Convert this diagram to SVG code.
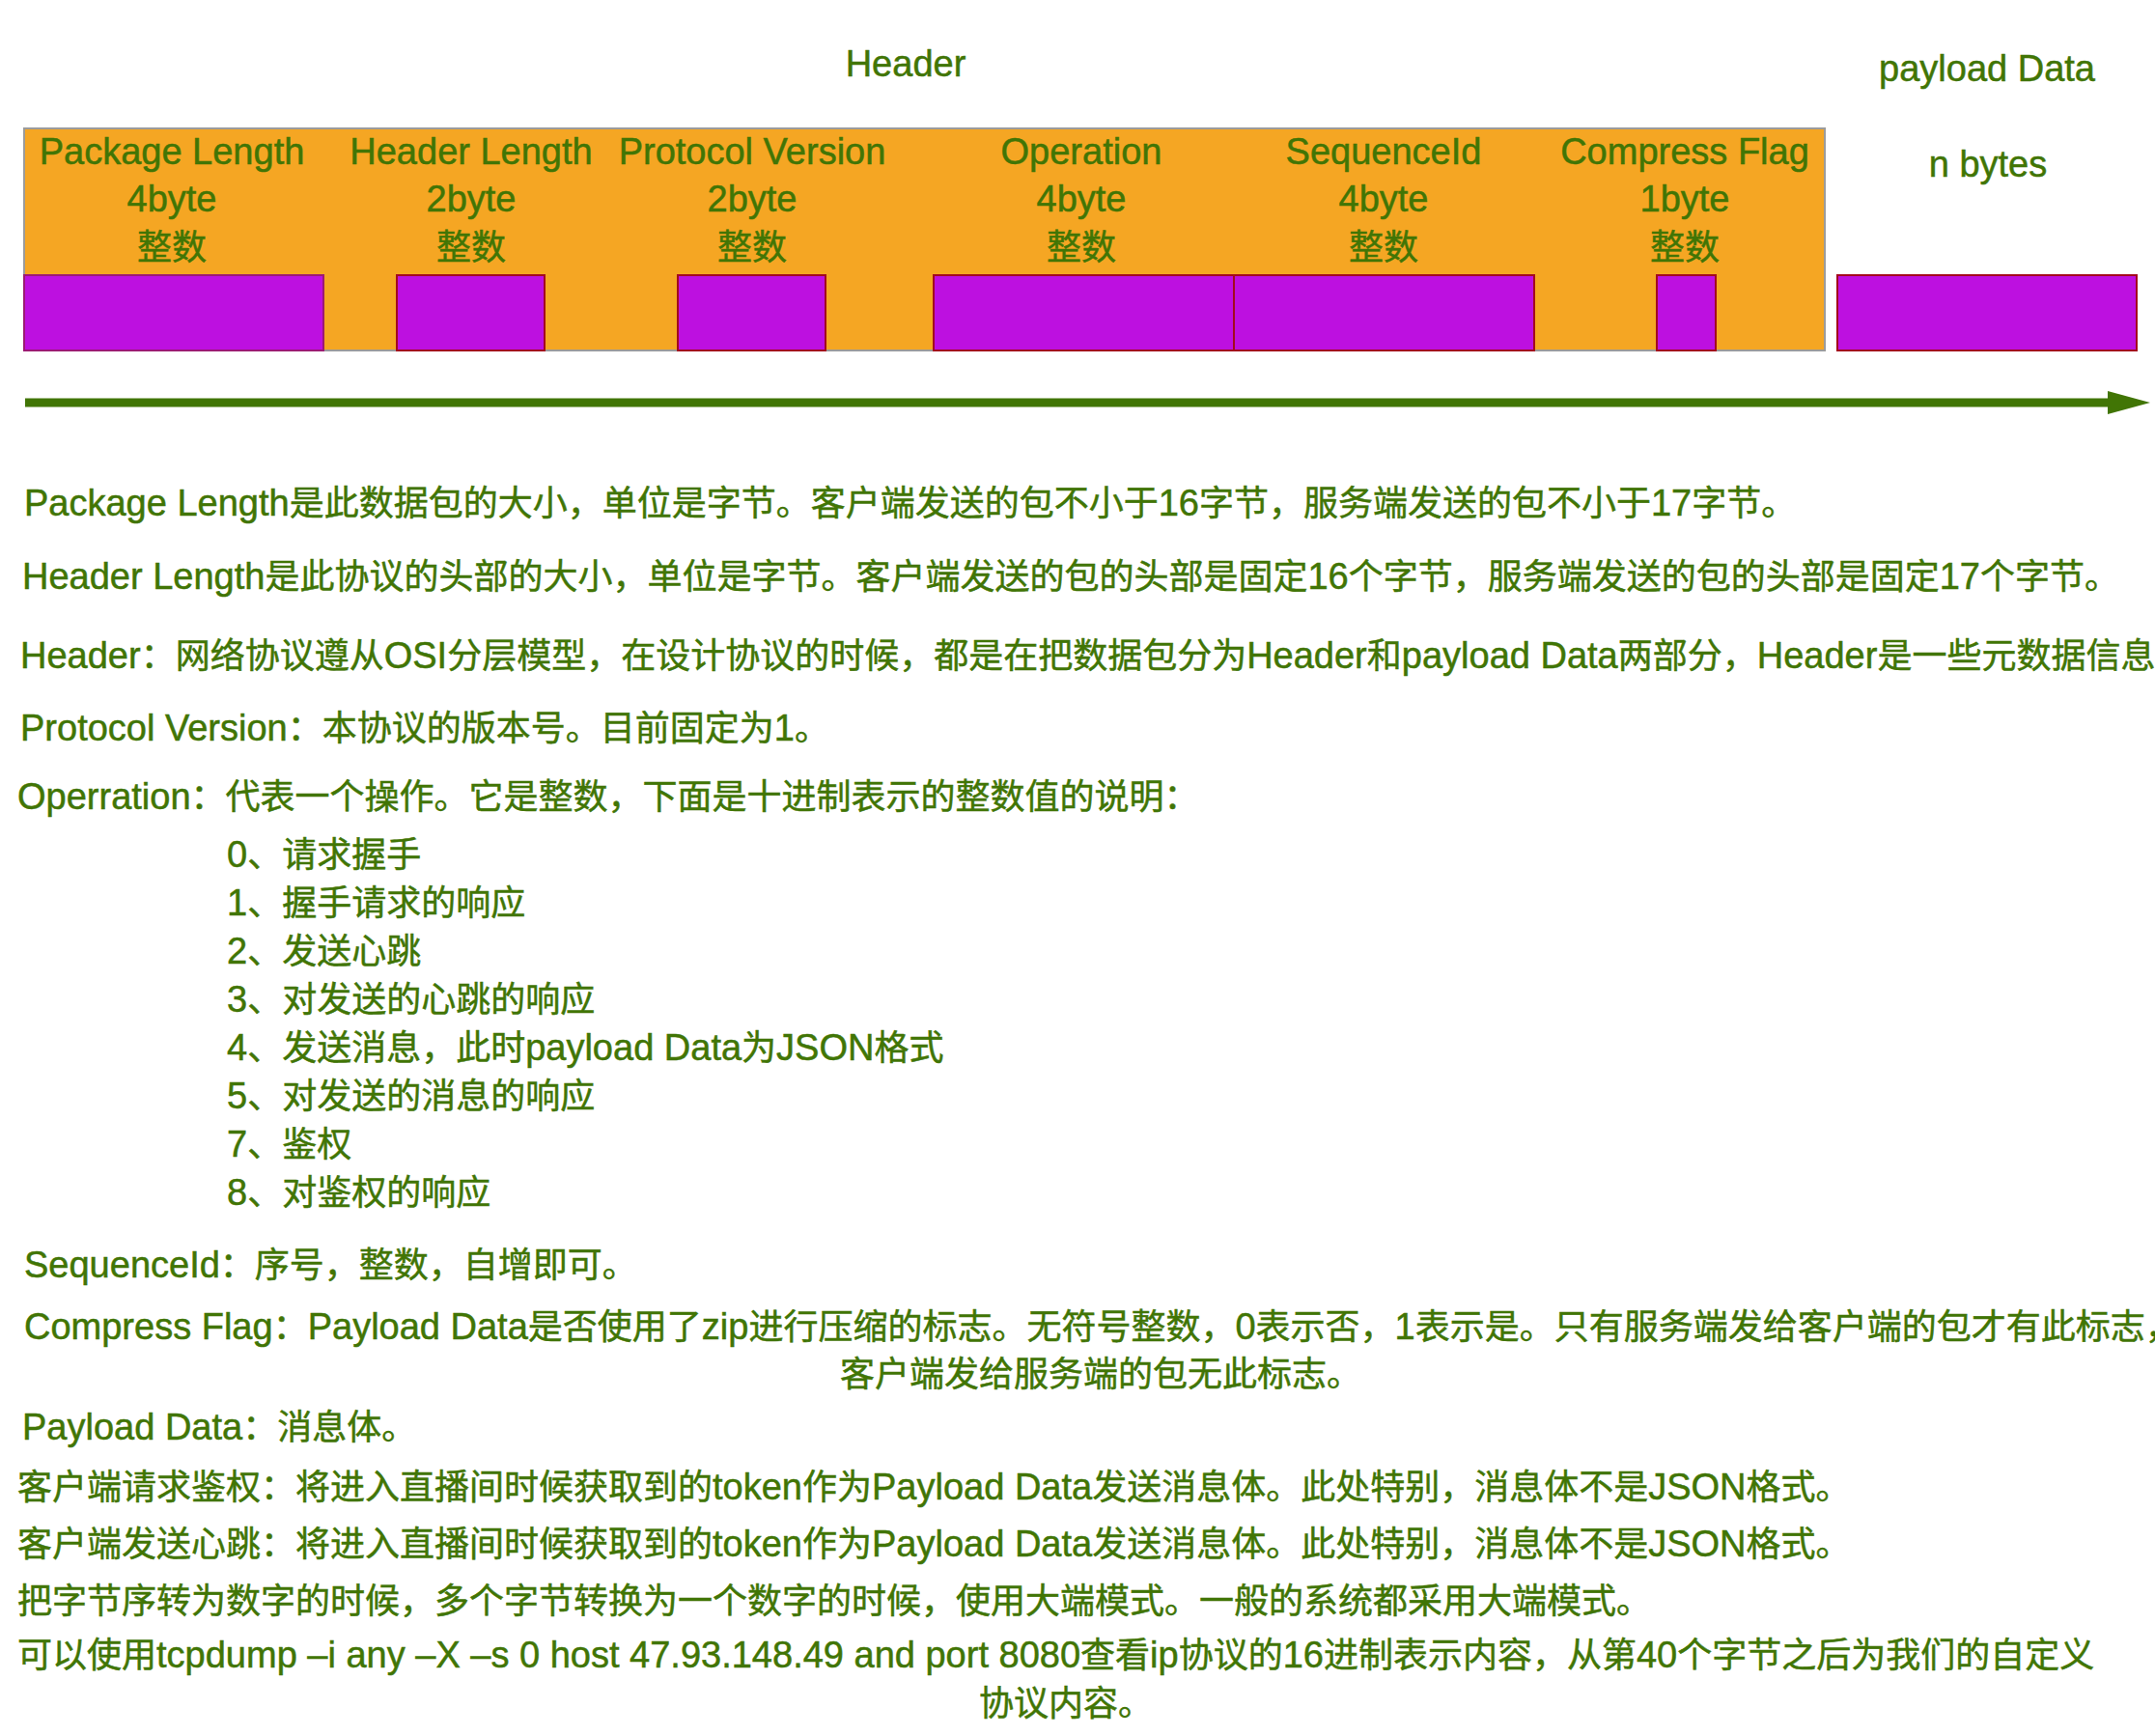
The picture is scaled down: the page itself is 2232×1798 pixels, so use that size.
<svg xmlns="http://www.w3.org/2000/svg" width="2232" height="1798" viewBox="0 0 2232 1798">
<defs>
<style>
text{font-family:"Liberation Sans","Noto Sans CJK SC",sans-serif;font-size:36px;fill:#417505;stroke:#417505;stroke-width:0.5}
.l{font-size:38px}
.c{text-anchor:middle}
.hdr{fill:#F5A623;stroke:#9B9B9B;stroke-width:2}
.fld{fill:#BD10E0;stroke:#A30A1E;stroke-width:2}
.fld1{fill:#BD10E0;stroke:#9C1A74;stroke-width:2}
.arr{stroke:#417505;stroke-width:9;fill:none}
</style>
<marker id="ah" markerUnits="userSpaceOnUse" markerWidth="44" markerHeight="24" refX="0" refY="12" orient="auto">
<path d="M0,0 L44,12 L0,24 Z" fill="#417505"/>
</marker>
</defs>
<rect width="2232" height="1798" fill="#FFFFFF"/>
<g id="header-block">
<rect class="hdr" x="25" y="133" width="1865" height="230"/>
<text class="c l" x="938" y="79">Header</text>
</g>
<g id="package-length">
<rect class="fld1" x="25" y="285" width="310" height="78"/>
<text class="c l" x="178" y="170">Package Length</text>
<text class="c l" x="178" y="219">4byte</text>
<text class="c" x="178" y="269">整数</text>
</g>
<g id="header-length">
<rect class="fld" x="411" y="285" width="153" height="78"/>
<text class="c l" x="488" y="170">Header Length</text>
<text class="c l" x="488" y="219">2byte</text>
<text class="c" x="488" y="269">整数</text>
</g>
<g id="protocol-version">
<rect class="fld" x="702" y="285" width="153" height="78"/>
<text class="c l" x="779" y="170">Protocol Version</text>
<text class="c l" x="779" y="219">2byte</text>
<text class="c" x="779" y="269">整数</text>
</g>
<g id="operation">
<rect class="fld" x="967" y="285" width="311" height="78"/>
<text class="c l" x="1120" y="170">Operation</text>
<text class="c l" x="1120" y="219">4byte</text>
<text class="c" x="1120" y="269">整数</text>
</g>
<g id="sequence-id">
<rect class="fld" x="1278" y="285" width="311" height="78"/>
<text class="c l" x="1433" y="170">SequenceId</text>
<text class="c l" x="1433" y="219">4byte</text>
<text class="c" x="1433" y="269">整数</text>
</g>
<g id="compress-flag">
<rect class="fld" x="1716" y="285" width="61" height="78"/>
<text class="c l" x="1745" y="170">Compress Flag</text>
<text class="c l" x="1745" y="219">1byte</text>
<text class="c" x="1745" y="269">整数</text>
</g>
<g id="payload-data">
<rect class="fld" x="1903" y="285" width="310" height="78"/>
<text class="c l" x="2058" y="84">payload Data</text>
<text class="c l" x="2059" y="183">n bytes</text>
</g>
<g id="connectors">
<line class="arr" x1="26" y1="417" x2="2183" y2="417" marker-end="url(#ah)"/>
</g>
<g id="notes">
<text x="25" y="534"><tspan class="l">Package Length</tspan>是此数据包的大小，单位是字节。客户端发送的包不小于<tspan class="l">16</tspan>字节，服务端发送的包不小于<tspan class="l">17</tspan>字节。</text>
<text x="23" y="610"><tspan class="l">Header Length</tspan>是此协议的头部的大小，单位是字节。客户端发送的包的头部是固定<tspan class="l">16</tspan>个字节，服务端发送的包的头部是固定<tspan class="l">17</tspan>个字节。</text>
<text x="21" y="692"><tspan class="l">Header</tspan>：网络协议遵从<tspan class="l">OSI</tspan>分层模型，在设计协议的时候，都是在把数据包分为<tspan class="l">Header</tspan>和<tspan class="l">payload Data</tspan>两部分，<tspan class="l">Header</tspan>是一些元数据信息。</text>
<text x="21" y="767"><tspan class="l">Protocol Version</tspan>：本协议的版本号。目前固定为<tspan class="l">1</tspan>。</text>
<text x="18" y="838"><tspan class="l">Operration</tspan>：代表一个操作。它是整数，下面是十进制表示的整数值的说明：</text>
<text x="235" y="898"><tspan class="l">0</tspan>、请求握手</text>
<text x="235" y="948"><tspan class="l">1</tspan>、握手请求的响应</text>
<text x="235" y="998"><tspan class="l">2</tspan>、发送心跳</text>
<text x="235" y="1048"><tspan class="l">3</tspan>、对发送的心跳的响应</text>
<text x="235" y="1098"><tspan class="l">4</tspan>、发送消息，此时<tspan class="l">payload Data</tspan>为<tspan class="l">JSON</tspan>格式</text>
<text x="235" y="1148"><tspan class="l">5</tspan>、对发送的消息的响应</text>
<text x="235" y="1198"><tspan class="l">7</tspan>、鉴权</text>
<text x="235" y="1248"><tspan class="l">8</tspan>、对鉴权的响应</text>
<text x="25" y="1323"><tspan class="l">SequenceId</tspan>：序号，整数，自增即可。</text>
<text x="25" y="1387"><tspan class="l">Compress Flag</tspan>：<tspan class="l">Payload Data</tspan>是否使用了<tspan class="l">zip</tspan>进行压缩的标志。无符号整数，<tspan class="l">0</tspan>表示否，<tspan class="l">1</tspan>表示是。只有服务端发给客户端的包才有此标志，</text>
<text x="870" y="1436">客户端发给服务端的包无此标志。</text>
<text x="23" y="1491"><tspan class="l">Payload Data</tspan>：消息体。</text>
<text x="18" y="1553">客户端请求鉴权：将进入直播间时候获取到的<tspan class="l">token</tspan>作为<tspan class="l">Payload Data</tspan>发送消息体。此处特别，消息体不是<tspan class="l">JSON</tspan>格式。</text>
<text x="18" y="1612">客户端发送心跳：将进入直播间时候获取到的<tspan class="l">token</tspan>作为<tspan class="l">Payload Data</tspan>发送消息体。此处特别，消息体不是<tspan class="l">JSON</tspan>格式。</text>
<text x="18" y="1671">把字节序转为数字的时候，多个字节转换为一个数字的时候，使用大端模式。一般的系统都采用大端模式。</text>
<text x="18" y="1727">可以使用<tspan class="l">tcpdump –i any –X –s 0 host 47.93.148.49 and port 8080</tspan>查看<tspan class="l">ip</tspan>协议的<tspan class="l">16</tspan>进制表示内容，从第<tspan class="l">40</tspan>个字节之后为我们的自定义</text>
<text x="1014" y="1777">协议内容。</text>
</g>
</svg>
